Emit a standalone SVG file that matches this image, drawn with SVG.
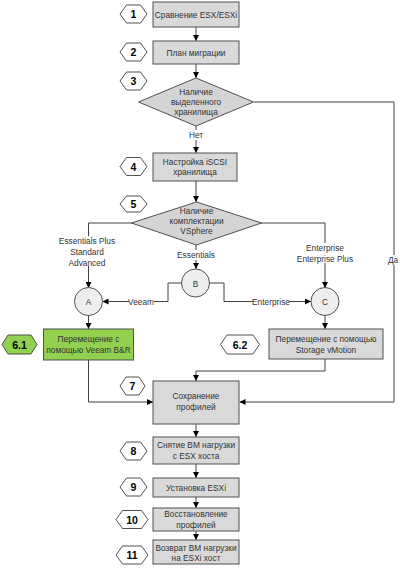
<svg xmlns="http://www.w3.org/2000/svg" width="400" height="571" viewBox="0 0 400 571">
<defs>
<marker id="ah" viewBox="0 0 6 6" refX="6" refY="3" markerWidth="6" markerHeight="6" markerUnits="userSpaceOnUse" orient="auto">
<path d="M0,0 L6,3 L0,6 Z" fill="#000"/>
</marker>
<style>
.box{fill:#d9d9d9;stroke:#505050;stroke-width:1}
.green{fill:#92d050;stroke:#505050;stroke-width:1}
.dia{fill:#d4d4d4;stroke:#505050;stroke-width:1}
.circ{fill:#eeeeee;stroke:#505050;stroke-width:1}
.hex{fill:#ffffff;stroke:#505050;stroke-width:1}
.hexg{fill:#92d050;stroke:#505050;stroke-width:1}
.t{font-family:"Liberation Sans",Arial,sans-serif;font-size:8.3px;fill:#333;text-anchor:middle}
.n{font-family:"Liberation Sans",Arial,sans-serif;font-size:10.5px;font-weight:bold;fill:#000;text-anchor:middle}
.arr{fill:none;stroke:#404040;stroke-width:1;marker-end:url(#ah)}
.lbl{fill:#fff}
</style>
</defs>
<rect width="400" height="571" fill="#fff"/>

<g id="connectors">
<line class="arr" x1="196" y1="27" x2="196" y2="41"/>
<line class="arr" x1="196" y1="64" x2="196" y2="78"/>
<line class="arr" x1="196" y1="126" x2="196" y2="153"/>
<line class="arr" x1="196" y1="181" x2="196" y2="202"/>
<polyline class="arr" points="132,223 88.5,223 88.5,288"/>
<polyline class="arr" points="261,223 325,223 325,288"/>
<line class="arr" x1="196" y1="245" x2="196" y2="269"/>
<polyline class="arr" points="181.5,283 168,283 168,301.5 102.5,301.5"/>
<polyline class="arr" points="209.5,283 224,283 224,301.5 311,301.5"/>
<line class="arr" x1="88.5" y1="315.5" x2="88.5" y2="329"/>
<line class="arr" x1="325" y1="315.5" x2="325" y2="329"/>
<polyline class="arr" points="88.5,360 88.5,402 153,402"/>
<polyline class="arr" points="325,359 325,371 196,371 196,381"/>
<polyline class="arr" points="254,102 394,102 394,402 239.5,402"/>
<line class="arr" x1="196" y1="424" x2="196" y2="437"/>
<line class="arr" x1="196" y1="464" x2="196" y2="478"/>
<line class="arr" x1="196" y1="497" x2="196" y2="508"/>
<line class="arr" x1="196" y1="531" x2="196" y2="540"/>
<rect class="lbl" x="186" y="130" width="20" height="10"/>
<text class="t" x="196" y="138">Нет</text>
<rect class="lbl" x="178" y="250" width="36" height="10"/>
<text class="t" x="196" y="258">Essentials</text>
<rect class="lbl" x="60" y="236" width="56" height="30"/>
<text class="t" x="87" y="244">Essentials Plus</text>
<text class="t" x="87" y="255">Standard</text>
<text class="t" x="87" y="266">Advanced</text>
<rect class="lbl" x="298" y="243" width="54" height="20"/>
<text class="t" x="325" y="251">Enterprise</text>
<text class="t" x="325" y="262">Enterprise Plus</text>
<rect class="lbl" x="387" y="255" width="13" height="10"/>
<text class="t" x="393" y="263">Да</text>
<rect class="lbl" x="129" y="297" width="25" height="9"/>
<text class="t" x="141" y="304.5">Veeam</text>
<rect class="lbl" x="253" y="297" width="36" height="9"/>
<text class="t" x="271" y="304.5">Enterprise</text>
</g>

<g id="n1">
<rect class="box" x="153" y="2" width="86" height="25"/>
<text class="t" x="196" y="17.5">Сравнение ESX/ESXi</text>
<polygon class="hex" points="120,14 126.5,5 140.5,5 147,14 140.5,23 126.5,23"/>
<text class="n" x="133.5" y="18">1</text>
</g>
<g id="n2">
<rect class="box" x="153" y="41" width="86" height="23"/>
<text class="t" x="196" y="55.5">План миграции</text>
<polygon class="hex" points="120,52 126.5,43 140.5,43 147,52 140.5,61 126.5,61"/>
<text class="n" x="133.5" y="56">2</text>
</g>
<g id="n3">
<polygon class="dia" points="196,78 253.5,102 196,126 138.5,102"/>
<text class="t" x="196" y="95">Наличие</text>
<text class="t" x="196" y="105">выделенного</text>
<text class="t" x="196" y="115">хранилища</text>
<polygon class="hex" points="120,81 126.5,72 140.5,72 147,81 140.5,90 126.5,90"/>
<text class="n" x="133.5" y="85">3</text>
</g>
<g id="n4">
<rect class="box" x="153" y="153" width="84" height="28"/>
<text class="t" x="195" y="164.5">Настройка iSCSI</text>
<text class="t" x="195" y="175">хранилища</text>
<polygon class="hex" points="120,166.5 126.5,157.5 140.5,157.5 147,166.5 140.5,175.5 126.5,175.5"/>
<text class="n" x="133.5" y="170.5">4</text>
</g>
<g id="n5">
<polygon class="dia" points="196.5,202 261.5,223 196.5,245 131.5,223"/>
<text class="t" x="196.5" y="214">Наличие</text>
<text class="t" x="196.5" y="224">комплектации</text>
<text class="t" x="196.5" y="234">VSphere</text>
<polygon class="hex" points="120,204 126.5,196 140.5,196 147,204 140.5,212 126.5,212"/>
<text class="n" x="133.5" y="208">5</text>
</g>
<g id="nA">
<circle class="circ" cx="88.5" cy="301.5" r="14"/>
<text class="t" x="88.5" y="305">A</text>
</g>
<g id="nB">
<circle class="circ" cx="195.5" cy="283" r="14"/>
<text class="t" x="195.5" y="286.5">B</text>
</g>
<g id="nC">
<circle class="circ" cx="325" cy="301.5" r="14"/>
<text class="t" x="325" y="305">C</text>
</g>
<g id="n61">
<rect class="green" x="43.5" y="329" width="90" height="31"/>
<text class="t" x="88.5" y="342">Перемещение с</text>
<text class="t" x="88.5" y="353">помощью Veeam B&amp;R</text>
<polygon class="hexg" points="2,344.5 8,335 31,335 37,344.5 31,354 8,354"/>
<text class="n" x="19.5" y="348.5">6.1</text>
</g>
<g id="n62">
<rect class="box" x="269" y="329" width="114" height="30"/>
<text class="t" x="326" y="342">Перемещение с помощью</text>
<text class="t" x="326" y="353">Storage vMotion</text>
<polygon class="hex" points="220.5,344.5 227,335 253,335 259.5,344.5 253,354 227,354"/>
<text class="n" x="240" y="348.5">6.2</text>
</g>
<g id="n7">
<rect class="box" x="153" y="381" width="86" height="43"/>
<text class="t" x="196" y="399">Сохранение</text>
<text class="t" x="196" y="410">профилей</text>
<polygon class="hex" points="120,386 126,377 139,377 145,386 139,395 126,395"/>
<text class="n" x="132.5" y="390">7</text>
</g>
<g id="n8">
<rect class="box" x="153" y="437" width="86" height="27"/>
<text class="t" x="196" y="448">Снятие ВМ нагрузки</text>
<text class="t" x="196" y="459">с ESX хоста</text>
<polygon class="hex" points="120,451 126.5,442 140.5,442 147,451 140.5,460 126.5,460"/>
<text class="n" x="133.5" y="455">8</text>
</g>
<g id="n9">
<rect class="box" x="153" y="478" width="86" height="19"/>
<text class="t" x="196" y="490.5">Установка ESXi</text>
<polygon class="hex" points="120,487 126.5,478 140.5,478 147,487 140.5,496 126.5,496"/>
<text class="n" x="133.5" y="491">9</text>
</g>
<g id="n10">
<rect class="box" x="153" y="508" width="86" height="23"/>
<text class="t" x="196" y="517">Восстановление</text>
<text class="t" x="196" y="527.5">профилей</text>
<polygon class="hex" points="116,519.5 122.5,510.5 141.5,510.5 148,519.5 141.5,528.5 122.5,528.5"/>
<text class="n" x="132" y="523.5">10</text>
</g>
<g id="n11">
<rect class="box" x="153" y="540" width="86" height="24"/>
<text class="t" x="196" y="550.5">Возврат ВМ нагрузки</text>
<text class="t" x="196" y="561">на ESXi хост</text>
<polygon class="hex" points="116,555 122.5,546 141.5,546 148,555 141.5,564 122.5,564"/>
<text class="n" x="132" y="559">11</text>
</g>
</svg>
